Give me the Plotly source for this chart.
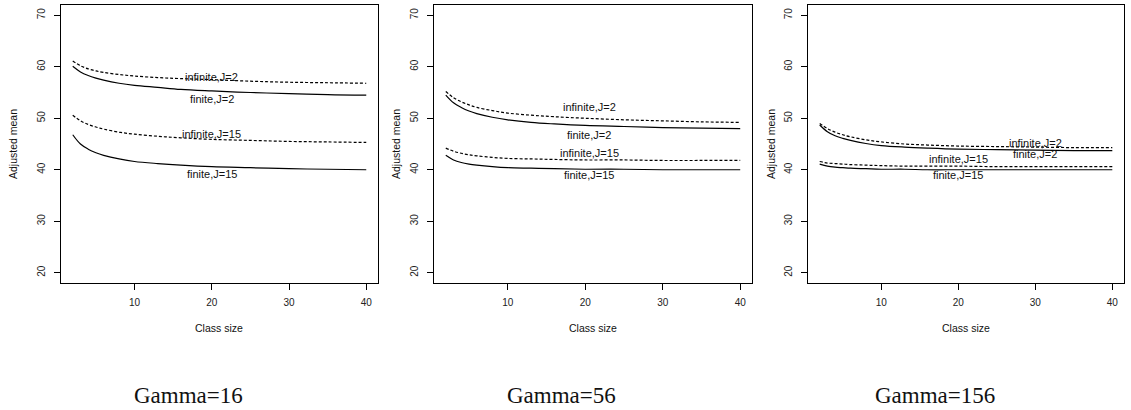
import plotly.graph_objects as go

# ---------------- data ----------------
class_size = [2, 3, 4, 5, 6, 8, 10, 13, 16, 20, 25, 30, 35, 40]

# Gamma = 16
g16_inf_j2  = [61.1, 60.2, 59.6, 59.2, 58.9, 58.5, 58.2, 57.9, 57.7, 57.5, 57.2, 57.0, 56.9, 56.8]
g16_fin_j2  = [60.1, 59.0, 58.3, 57.8, 57.4, 56.8, 56.4, 56.0, 55.6, 55.3, 55.0, 54.8, 54.6, 54.5]
g16_inf_j15 = [50.6, 49.5, 48.8, 48.3, 47.9, 47.3, 46.9, 46.5, 46.2, 45.9, 45.7, 45.5, 45.4, 45.3]
g16_fin_j15 = [46.8, 45.0, 44.0, 43.3, 42.8, 42.1, 41.6, 41.2, 40.9, 40.6, 40.4, 40.2, 40.1, 40.0]

# Gamma = 56
g56_inf_j2  = [55.2, 54.0, 53.2, 52.6, 52.1, 51.5, 51.0, 50.6, 50.3, 50.0, 49.7, 49.5, 49.3, 49.2]
g56_fin_j2  = [54.5, 53.0, 52.1, 51.4, 50.9, 50.2, 49.7, 49.2, 48.9, 48.6, 48.4, 48.2, 48.1, 48.0]
g56_inf_j15 = [44.2, 43.6, 43.2, 42.9, 42.7, 42.4, 42.2, 42.1, 42.0, 41.9, 41.9, 41.8, 41.8, 41.8]
g56_fin_j15 = [42.8, 41.9, 41.4, 41.1, 40.9, 40.6, 40.4, 40.3, 40.2, 40.1, 40.1, 40.0, 40.0, 40.0]

# Gamma = 156
g156_inf_j2  = [49.0, 48.0, 47.3, 46.8, 46.4, 45.8, 45.4, 45.0, 44.8, 44.6, 44.5, 44.4, 44.3, 44.3]
g156_fin_j2  = [48.7, 47.4, 46.6, 46.1, 45.7, 45.1, 44.7, 44.4, 44.2, 44.0, 43.9, 43.8, 43.7, 43.7]
g156_inf_j15 = [41.6, 41.3, 41.2, 41.1, 41.0, 40.9, 40.8, 40.7, 40.7, 40.7, 40.6, 40.6, 40.6, 40.6]
g156_fin_j15 = [41.1, 40.7, 40.5, 40.4, 40.3, 40.2, 40.1, 40.1, 40.0, 40.0, 40.0, 40.0, 40.0, 40.0]

series_names = ["infinite,J=2", "finite,J=2", "infinite,J=15", "finite,J=15"]
captions = ["Gamma=16", "Gamma=56", "Gamma=156"]
x_ticks = [10, 20, 30, 40]
y_ticks = [20, 30, 40, 50, 60, 70]

panels = [
    [g16_inf_j2, g16_fin_j2, g16_inf_j15, g16_fin_j15],
    [g56_inf_j2, g56_fin_j2, g56_inf_j15, g56_fin_j15],
    [g156_inf_j2, g156_fin_j2, g156_inf_j15, g156_fin_j15],
]

# label anchor points (x, y) per panel, per series
label_pos = [
    [(20, 58.1), (20, 53.8), (20, 47.0), (20, 39.1)],
    [(20.5, 52.1), (20.5, 46.8), (20.5, 43.2), (20.5, 39.0)],
    [(30, 45.1), (30, 43.0), (20, 42.1), (20, 39.0)],
]

# ---------------- layout geometry ----------------
W, H = 1131, 410
plot_lr = [(61, 378), (434, 752), (808, 1124)]
plot_top, plot_bot = 5, 283
ytitle_x = [13, 396, 771]
caption_x = [188, 561, 935]

SANS = "Liberation Sans, Arial, sans-serif"
SERIF = "Liberation Serif, Times New Roman, serif"

fig = go.Figure()
layout = dict(
    width=W, height=H, margin=dict(l=0, r=0, t=0, b=0),
    paper_bgcolor="white", plot_bgcolor="white", showlegend=False,
    annotations=[],
)

for i, series in enumerate(panels):
    sfx = "" if i == 0 else str(i + 1)
    for j, ys in enumerate(series):
        dashed = (j % 2 == 0)
        fig.add_trace(go.Scatter(
            x=class_size, y=ys, mode="lines",
            line=dict(color="black", width=1.2, shape="spline", smoothing=1.0,
                      dash="3px,2px" if dashed else "solid"),
            xaxis="x" + sfx, yaxis="y" + sfx, name=series_names[j],
            hoverinfo="skip",
        ))
        lx, ly = label_pos[i][j]
        layout["annotations"].append(dict(
            x=lx, y=ly, xref="x" + sfx, yref="y" + sfx, text=series_names[j],
            showarrow=False, font=dict(family=SANS, size=11, color="#111"),
            xanchor="center", yanchor="middle",
        ))
    l, r = plot_lr[i]
    layout["xaxis" + sfx] = dict(
        domain=[l / W, r / W], range=[0.48, 41.52], anchor="y" + sfx,
        tickvals=x_ticks, ticks="outside", ticklen=6, tickwidth=1, tickcolor="black",
        showline=True, mirror=True, linecolor="black", linewidth=1,
        showgrid=False, zeroline=False,
        tickfont=dict(family=SANS, size=10, color="#222"), ticklabelstandoff=4,
    )
    layout["yaxis" + sfx] = dict(
        domain=[1 - plot_bot / H, 1 - plot_top / H], range=[18, 72], anchor="x" + sfx,
        tickvals=y_ticks, ticks="outside", ticklen=6, tickwidth=1, tickcolor="black",
        showline=True, mirror=True, linecolor="black", linewidth=1,
        showgrid=False, zeroline=False, tickangle=-90,
        tickfont=dict(family=SANS, size=10, color="#222"), ticklabelstandoff=5,
    )
    # axis titles
    layout["annotations"].append(dict(
        x=(l + r) / 2 / W, y=1 - 328 / H, xref="paper", yref="paper",
        text="Class size", showarrow=False,
        font=dict(family=SANS, size=10.5, color="#111"),
        xanchor="center", yanchor="middle",
    ))
    layout["annotations"].append(dict(
        x=ytitle_x[i] / W, y=1 - (plot_top + plot_bot) / 2 / H, xref="paper", yref="paper",
        text="Adjusted mean", showarrow=False, textangle=-90,
        font=dict(family=SANS, size=10.5, color="#111"),
        xanchor="center", yanchor="middle",
    ))
    layout["annotations"].append(dict(
        x=caption_x[i] / W, y=1 - 395 / H, xref="paper", yref="paper",
        text=captions[i], showarrow=False,
        font=dict(family=SERIF, size=23, color="#111"),
        xanchor="center", yanchor="middle",
    ))

fig.update_layout(**layout)
fig.write_html("out.html")
